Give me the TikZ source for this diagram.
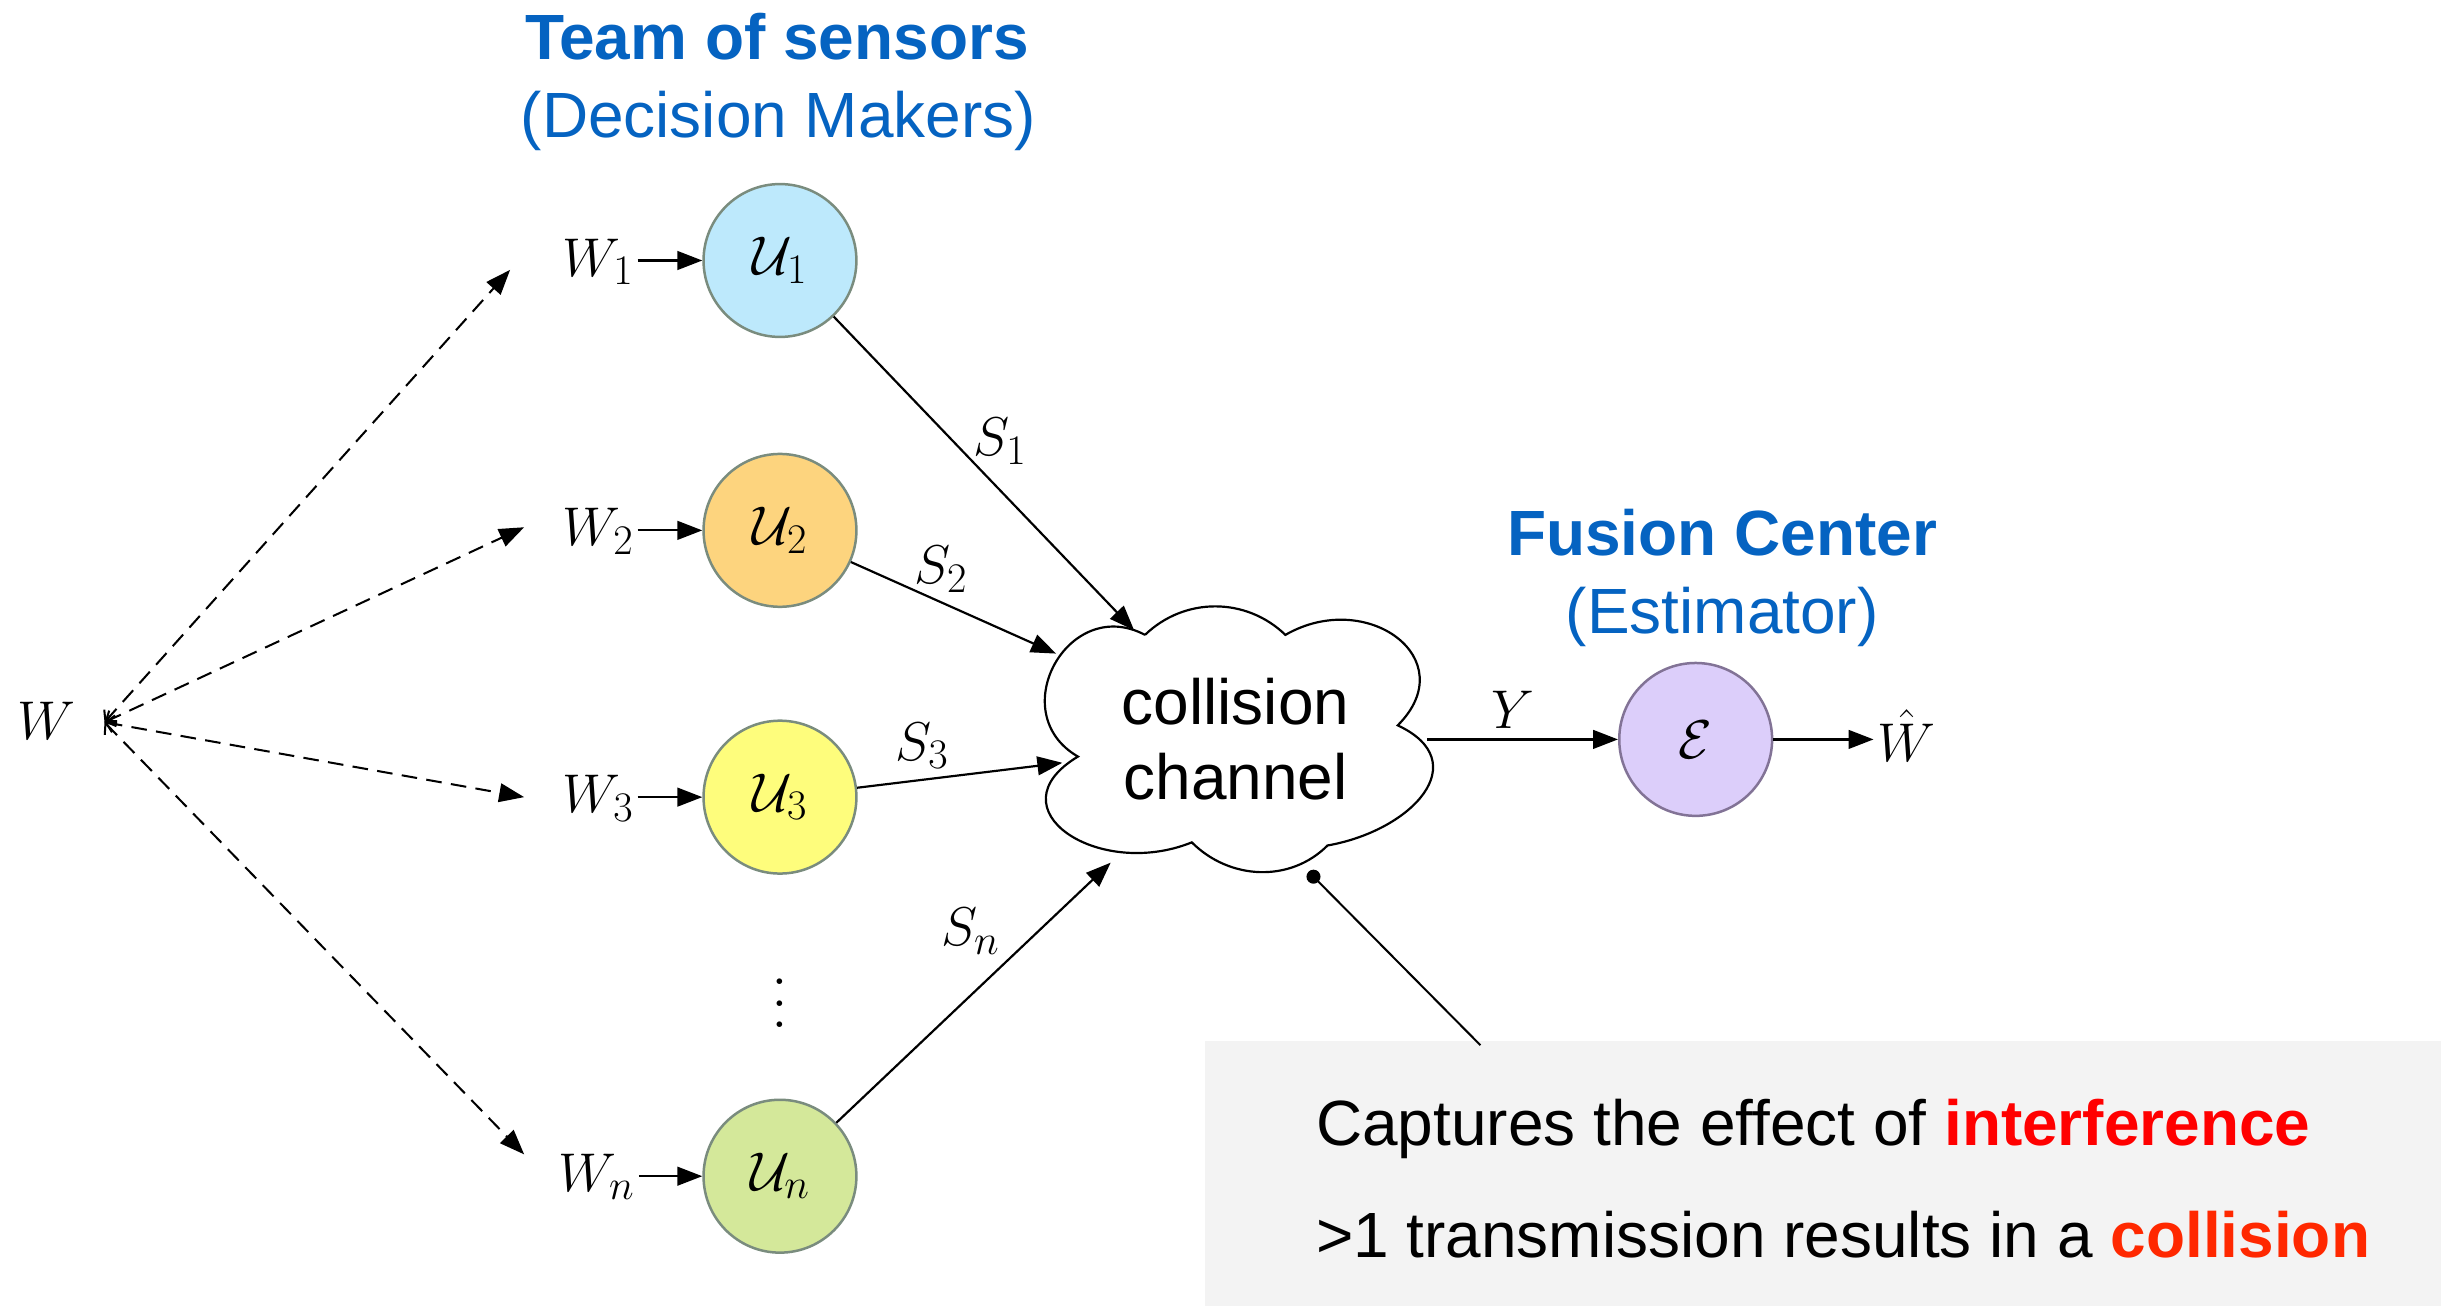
\RequirePackage{fix-cm}
\documentclass[tikz,border=0pt]{standalone}
\usepackage{fontspec}
\newfontfamily\hv{Liberation Sans}
\usetikzlibrary{arrows.meta}
\DeclareMathSizes{35}{35}{27}{20}
\definecolor{hblue}{RGB}{5,99,193}
\definecolor{cred}{RGB}{255,0,0}
\definecolor{cora}{RGB}{255,40,0}
\definecolor{uone}{RGB}{189,233,252}
\definecolor{utwo}{RGB}{253,212,126}
\definecolor{uthree}{RGB}{254,253,124}
\definecolor{un}{RGB}{212,232,154}
\definecolor{ecol}{RGB}{220,206,250}
\definecolor{sgray}{RGB}{122,140,126}
\definecolor{egray}{RGB}{130,115,150}
\definecolor{boxgray}{RGB}{243,243,243}
\newcommand\mymath{\fontsize{35}{42}\selectfont}
\newcommand\bigtxt{\hv\fontsize{41}{48}\selectfont}
\begin{document}
\begin{tikzpicture}[x=1pt,y=1pt,line width=1.4pt,
  arr/.style={-{Triangle[length=16pt,width=12pt]}},
  darr/.style={line width=1.3pt,dash pattern=on 10pt off 6pt,{Straight Barb[length=5pt,width=11pt]}-{Triangle[length=16pt,width=12pt]}},
  sensor/.style={circle,minimum size=98pt,inner sep=0pt,draw=sgray,line width=1.6pt,font=\mymath},
  lab/.style={font=\mymath,inner sep=2pt},
  head/.style={font=\bigtxt\bfseries,text=hblue,anchor=base,inner sep=0pt},
  subh/.style={font=\bigtxt,text=hblue,anchor=base,inner sep=0pt},
  ctext/.style={font=\bigtxt,anchor=base west,inner sep=0pt}]
\useasboundingbox (0,0) rectangle (1568,838);

% headings
\node[head] (team) at (498,800) {Team of sensors};
\node[subh] (dm) at (499,750) {(Decision Makers)};
\node[head] (fc) at (1104,482) {Fusion Center};
\node[subh] (est) at (1104,432) {(Estimator)};

% sensors
\node[sensor,fill=uone] (U1) at (500,671) {$\mathcal{U}_1$};
\node[sensor,fill=utwo] (U2) at (500,498) {$\mathcal{U}_2$};
\node[sensor,fill=uthree] (U3) at (500,327) {$\mathcal{U}_3$};
\node[sensor,fill=un] (Un) at (500,84) {$\mathcal{U}_n$};
\node[inner sep=0pt] (dots) at (500,205) {\scalebox{3.4}{\fontsize{10}{12}\selectfont$\vdots$}};

% inputs
\node[lab,anchor=base] (W1) at (383.5,661) {$W_1$};
\node[lab,anchor=base] (W2) at (383.5,488) {$W_2$};
\node[lab,anchor=base] (W3) at (383.5,317) {$W_3$};
\node[lab,anchor=base] (Wn) at (382.5,74) {$W_n$};
\node[lab,anchor=base] (W) at (30,364) {$W$};
\coordinate (Wt) at (67,375);
\coordinate (e1) at (327,665);
\coordinate (e2) at (336,500);
\coordinate (e3) at (336,327);
\coordinate (en) at (336,98);
\draw[darr] (Wt) -- (e1);
\draw[darr] (Wt) -- (e2);
\draw[darr] (Wt) -- (e3);
\draw[darr] (Wt) -- (en);

\draw[arr] (W1.east |- U1) -- (U1.west);
\draw[arr] (W2.east |- U2) -- (U2.west);
\draw[arr] (W3.east |- U3) -- (U3.west);
\draw[arr] (Wn.east |- Un) -- (Un.west);

% cloud
\draw (734,431) to[out=44,in=136] (824,431)
  to[out=30,in=45,looseness=1.67] (896,373)
  to[out=-25,in=10,looseness=1.58] (851,296)
  to[out=-135,in=-45] (764,298)
  to[out=-158,in=211,looseness=1.82] (691,353)
  to[out=150,in=152,looseness=1.6] (734,431);
\node[font=\bigtxt,align=center,inner sep=0pt] (cloud) at (792,364) {collision\\channel};

\coordinate (s1e) at (727,434);
\coordinate (s2e) at (677,419);
\coordinate (s3e) at (681,349);
\coordinate (sne) at (712,285);
\draw[arr] (U1) -- (s1e);
\draw[arr] (U2) -- (s2e);
\draw[arr] (U3) -- (s3e);
\draw[arr] (Un) -- (sne);
\node[lab] (S1) at (641,555) {$S_1$};
\node[lab] (S2) at (603,473) {$S_2$};
\node[lab] (S3) at (591,360) {$S_3$};
\node[lab] (Sn) at (622,241) {$S_n$};

% fusion center
\node[circle,minimum size=98pt,inner sep=0pt,draw=egray,line width=1.6pt,fill=ecol,font=\mymath] (E) at (1087,364) {$\mathcal{E}$};
\coordinate (ys) at (915,364);
\draw[arr] (ys) -- (E.west);
\node[lab,anchor=base] (Y) at (970,371) {$Y$};
\node[lab,anchor=base west] (What) at (1201,350) {$\hat{W}$};
\draw[arr] (E.east) -- (E.east -| What.west);

% callout
\node[fill=boxgray,anchor=south west,minimum width=792pt,minimum height=170pt,inner sep=0pt] (box) at (772,0) {};
\node[circle,fill=black,inner sep=0pt,minimum size=9pt] (dot) at (842,276) {};
\coordinate (ce) at (949,168);
\draw[line width=1.3pt] (dot.center) -- (ce);
\node[ctext] (l1) at (843,104) {Captures the effect of \textcolor{cred}{\bfseries interference}};
\node[ctext] (l2) at (843,32) {>1 transmission results in a \textcolor{cora}{\bfseries collision}};
\end{tikzpicture}
\end{document}
